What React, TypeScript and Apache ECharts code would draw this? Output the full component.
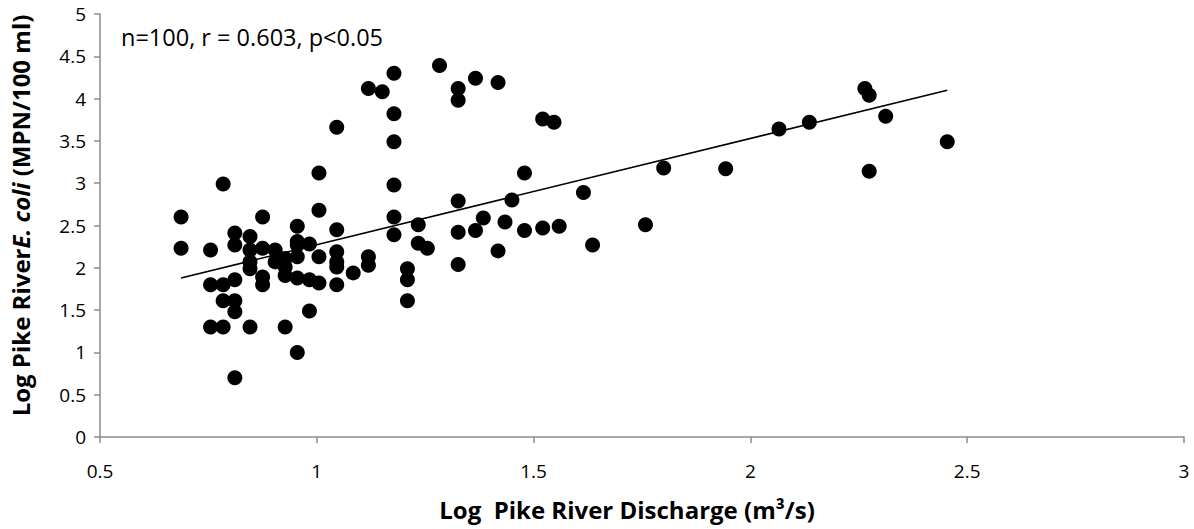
import React, { useEffect, useRef } from "react";
import * as echarts from "echarts";

// Log Pike River discharge (x) and log E. coli (y)
const dischargeLog: number[] = [
  0.687, 0.687,
  0.755, 0.755, 0.755,
  0.784, 0.784, 0.784, 0.784,
  0.811, 0.811, 0.811, 0.811, 0.811, 0.811,
  0.846, 0.846, 0.846, 0.846, 0.846,
  0.875, 0.875, 0.875, 0.875,
  0.904, 0.904,
  0.927, 0.927, 0.927, 0.927,
  0.955, 0.955, 0.955, 0.955, 0.955, 0.955,
  0.983, 0.983, 0.983,
  1.005, 1.005, 1.005, 1.005,
  1.046, 1.046, 1.046, 1.046, 1.046, 1.046,
  1.084,
  1.119, 1.119, 1.119,
  1.151,
  1.178, 1.178, 1.178, 1.178, 1.178, 1.178,
  1.209, 1.209, 1.209,
  1.234, 1.234,
  1.255,
  1.283,
  1.326, 1.326, 1.326, 1.326, 1.326,
  1.366, 1.366,
  1.384,
  1.418, 1.418,
  1.434,
  1.45,
  1.479, 1.479,
  1.521, 1.521,
  1.547,
  1.559,
  1.615,
  1.636,
  1.758,
  1.8,
  1.943,
  2.066,
  2.136,
  2.264,
  2.274, 2.274,
  2.312,
  2.454,
];
const ecoliLog: number[] = [
  2.6, 2.23,
  2.21, 1.8, 1.3,
  2.99, 1.8, 1.61, 1.3,
  2.41, 2.27, 1.86, 1.61, 1.48, 0.7,
  2.37, 2.21, 2.07, 1.99, 1.3,
  2.6, 2.23, 1.89, 1.8,
  2.21, 2.07,
  2.11, 2.01, 1.91, 1.3,
  2.49, 2.31, 2.27, 2.13, 1.88, 1.0,
  2.28, 1.86, 1.49,
  3.12, 2.68, 2.13, 1.82,
  3.66, 2.45, 2.19, 2.07, 2.01, 1.8,
  1.94,
  4.12, 2.13, 2.03,
  4.08,
  4.3, 3.82, 3.49, 2.98, 2.6, 2.39,
  1.99, 1.86, 1.61,
  2.51, 2.29,
  2.23,
  4.39,
  4.12, 3.98, 2.79, 2.42, 2.04,
  4.24, 2.44,
  2.59,
  4.19, 2.2,
  2.54,
  2.8,
  3.12, 2.44,
  3.76, 2.47,
  3.72,
  2.49,
  2.89,
  2.27,
  2.51,
  3.18,
  3.17,
  3.64,
  3.72,
  4.12,
  4.04, 3.14,
  3.79,
  3.49,
];

// Linear trend line
const trendRange: number[] = [0.687, 2.454];
const trendSlope = 1.256;
const trendIntercept = 1.017;

const xTicks = { min: 0.5, max: 3, interval: 0.5 };
const yTicks = { min: 0, max: 5, interval: 0.5 };

const annotation = "n=100, r = 0.603, p<0.05";
const xTitle = "Log  Pike River Discharge (m³/s)";

export default function App() {
  const ref = useRef<HTMLDivElement>(null);
  useEffect(() => {
    if (!ref.current) return;
    const chart = echarts.init(ref.current, undefined, { renderer: "svg" });
    const points = dischargeLog.map((x, i) => [x, ecoliLog[i]]);
    const trend = trendRange.map((x) => [x, trendIntercept + trendSlope * x]);
    const font = "'Open Sans', Lato, sans-serif";
    const axisColor = "#8c8c8c";
    chart.setOption({
      animation: false,
      backgroundColor: "#ffffff",
      textStyle: { fontFamily: font },
      grid: { left: 100, right: 10, top: 14, bottom: 92, containLabel: false },
      xAxis: {
        type: "value",
        min: xTicks.min,
        max: xTicks.max,
        interval: xTicks.interval,
        splitLine: { show: false },
        axisLine: { lineStyle: { color: axisColor, width: 1.5 } },
        axisTick: { show: true, length: 6, lineStyle: { color: axisColor, width: 1.5 } },
        axisLabel: { color: "#000", fontSize: 19, fontFamily: font, margin: 24 },
        name: xTitle,
        nameLocation: "middle",
        nameGap: 60,
        nameTextStyle: {
          color: "#000",
          fontSize: 24,
          fontWeight: "bold",
          fontFamily: font,
          padding: [0, 30, 0, 0],
        },
      },
      yAxis: {
        type: "value",
        min: yTicks.min,
        max: yTicks.max,
        interval: yTicks.interval,
        splitLine: { show: false },
        axisLine: { show: true, lineStyle: { color: axisColor, width: 1.5 } },
        axisTick: { show: true, length: 6, lineStyle: { color: axisColor, width: 1.5 } },
        axisLabel: { color: "#000", fontSize: 19, fontFamily: font, margin: 14 },
        name: "{b|Log Pike River}{bi|E. coli}{b| (MPN/100 ml)}",
        nameLocation: "middle",
        nameGap: 68,
        nameRotate: 90,
        nameTextStyle: {
          color: "#000",
          fontSize: 24,
          fontFamily: font,
          padding: [0, 0, 0, 20],
          rich: {
            b: { fontWeight: "bold", fontSize: 24, fontFamily: font, color: "#000" },
            bi: { fontWeight: "bold", fontStyle: "italic", fontSize: 24, fontFamily: font, color: "#000" },
          },
        },
      },
      graphic: [
        {
          type: "text",
          left: 121,
          top: 25,
          style: { text: annotation, fontSize: 23.5, fontFamily: font, fill: "#000" },
        },
      ],
      series: [
        {
          type: "scatter",
          data: points,
          symbol: "circle",
          symbolSize: 15,
          itemStyle: { color: "#000", opacity: 1 },
          z: 3,
        },
        {
          type: "line",
          data: trend,
          symbol: "none",
          lineStyle: { color: "#000", width: 1.5 },
          z: 2,
        },
      ],
    });
    return () => chart.dispose();
  }, []);
  return <div ref={ref} style={{ width: 1194, height: 529, position: "absolute", left: 0, top: 0 }} />;
}
